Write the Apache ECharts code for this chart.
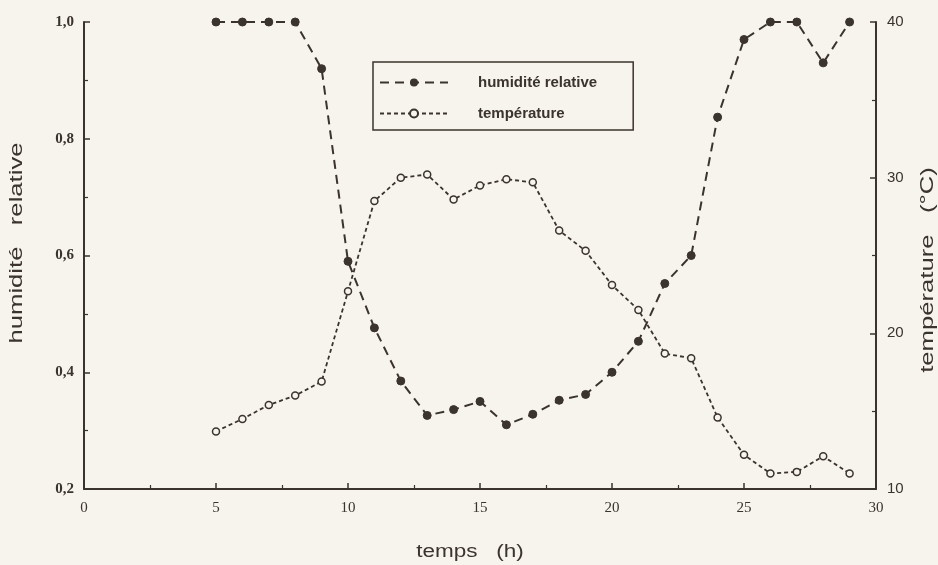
<!DOCTYPE html>
<html>
<head>
<meta charset="utf-8">
<script src="https://cdn.jsdelivr.net/npm/echarts@6/dist/echarts.min.js"></script>
<style>
html,body{margin:0;padding:0;background:#f6f4ec;}
#c{width:938px;height:565px;}
</style>
</head>
<body>
<div id="c"></div>
<script>
var hours = [5,6,7,8,9,10,11,12,13,14,15,16,17,18,19,20,21,22,23,24,25,26,27,28,29];
var humidite = [1.0,1.0,1.0,1.0,0.92,0.59,0.476,0.385,0.326,0.336,0.35,0.31,0.328,0.352,0.362,0.40,0.453,0.552,0.60,0.837,0.97,1.0,1.0,0.93,1.0];
var temperature = [13.7,14.5,15.4,16.0,16.9,22.7,28.5,30.0,30.2,28.6,29.5,29.9,29.7,26.6,25.3,23.1,21.5,18.7,18.4,14.6,12.2,11.0,11.1,12.1,11.0];
var xTicks = [0,5,10,15,20,25,30];
var leftTicks = [0.2,0.4,0.6,0.8,1.0];
var rightTicks = [10,20,30,40];
var xTitle = 'temps   (h)';
var leftTitle = 'humidité   relative';
var rightTitle = 'température   (°C)';

var ink = '#3b332d';
var paper = '#f6f4ec';
var chart = echarts.init(document.getElementById('c'));
var hData = hours.map(function(h,i){return [h, humidite[i]];});
var tData = hours.map(function(h,i){return [h, temperature[i]];});
var serif = '"Liberation Serif","DejaVu Serif",serif';
var sans = '"Liberation Sans",Arial,sans-serif';

chart.setOption({
  backgroundColor: paper,
  animation: false,
  grid: {left: 84, right: 62, top: 22, bottom: 76, outerBoundsMode: 'none', containLabel: false},
  graphic: [
    {type: 'text', x: 17, y: 243, rotation: Math.PI / 2, scaleX: 1.35, silent: true,
     style: {text: leftTitle, font: '19px ' + sans, fill: ink, textAlign: 'center', textVerticalAlign: 'middle'}},
    {type: 'text', x: 928, y: 270, rotation: Math.PI / 2, scaleX: 1.35, silent: true,
     style: {text: rightTitle, font: '19px ' + sans, fill: ink, textAlign: 'center', textVerticalAlign: 'middle'}},
    {type: 'text', x: 470, y: 552, scaleX: 1.25, silent: true,
     style: {text: xTitle, font: '18px ' + sans, fill: ink, textAlign: 'center', textVerticalAlign: 'middle'}}
  ],
  legend: {
    orient: 'vertical',
    left: 373, top: 62,
    padding: [13, 36, 9, 6],
    borderColor: ink, borderWidth: 1.5,
    itemWidth: 68, itemHeight: 10, itemGap: 16,
    textStyle: {color: ink, fontFamily: sans, fontSize: 15, fontWeight: 'bold', padding: [0,0,0,25]},
    data: ['humidité relative', 'température']
  },
  xAxis: {
    type: 'value', min: 0, max: 30, interval: 5,
    axisLine: {lineStyle: {color: ink, width: 2}},
    axisTick: {inside: true, length: 6, lineStyle: {color: ink, width: 1.5}},
    minorTick: {show: true, splitNumber: 2, length: 4, lineStyle: {color: ink, width: 1.2}},
    splitLine: {show: false},
    axisLabel: {color: ink, fontFamily: serif, fontSize: 15, margin: 12,
      formatter: function(v){ return xTicks.indexOf(v) >= 0 ? String(v) : ''; }}
  },
  yAxis: [{
    type: 'value', min: 0.2, max: 1.0, interval: 0.2,
    axisLine: {show: true, lineStyle: {color: ink, width: 2}},
    axisTick: {inside: true, length: 6, lineStyle: {color: ink, width: 1.5}},
    minorTick: {show: true, splitNumber: 2, length: 4, lineStyle: {color: ink, width: 1.2}},
    splitLine: {show: false},
    axisLabel: {color: ink, fontFamily: serif, fontSize: 15, fontWeight: 'bold', margin: 10,
      formatter: function(v){ var r = Math.round(v*10)/10; return leftTicks.indexOf(r) >= 0 ? r.toFixed(1).replace('.', ',') : ''; }}
  }, {
    type: 'value', min: 10, max: 40, interval: 10, position: 'right',
    axisLine: {show: true, lineStyle: {color: ink, width: 2}},
    axisTick: {inside: true, length: 6, lineStyle: {color: ink, width: 1.5}},
    minorTick: {show: true, splitNumber: 2, length: 4, lineStyle: {color: ink, width: 1.2}},
    splitLine: {show: false},
    axisLabel: {color: ink, fontFamily: 'Liberation Sans', fontSize: 15, margin: 11,
      formatter: function(v){ return rightTicks.indexOf(v) >= 0 ? String(v) : ''; }}
  }],
  series: [{
    name: 'humidité relative', type: 'line', yAxisIndex: 0, data: hData,
    symbol: 'circle', symbolSize: 8,
    itemStyle: {color: ink, borderColor: ink},
    lineStyle: {color: ink, width: 2, type: [9, 6]}
  }, {
    name: 'température', type: 'line', yAxisIndex: 1, data: tData,
    symbol: 'circle', symbolSize: 7,
    itemStyle: {color: paper, borderColor: ink, borderWidth: 1.5},
    lineStyle: {color: ink, width: 1.8, type: [4, 3]}
  }]
});
</script>
</body>
</html>
